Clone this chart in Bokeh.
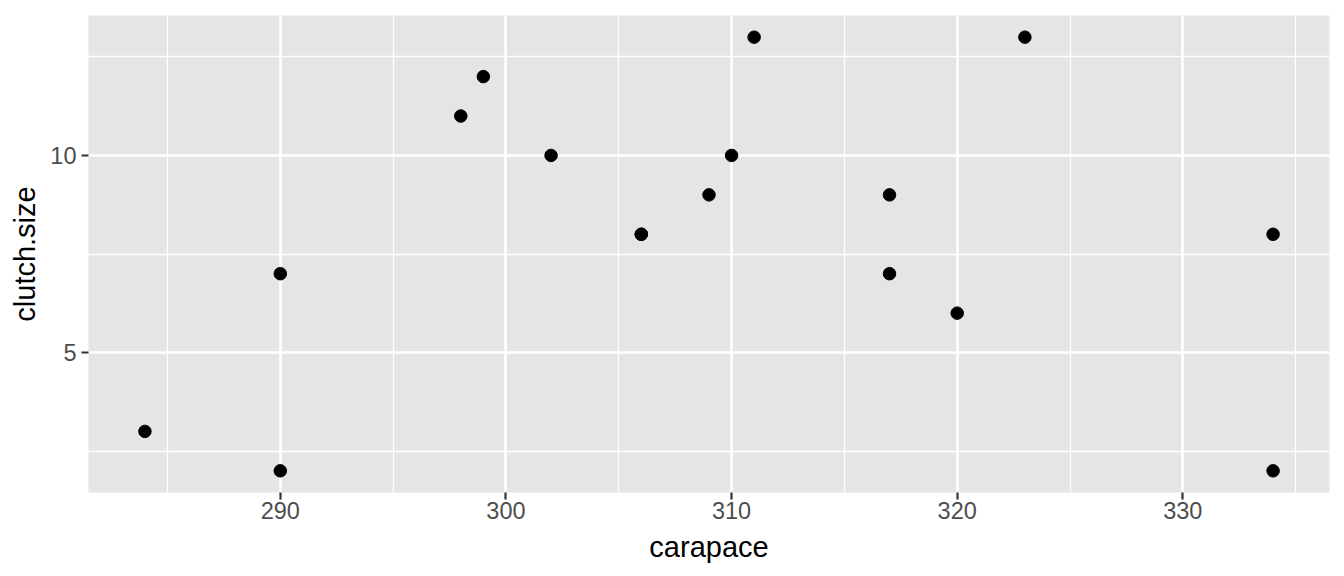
from bokeh.plotting import figure
from bokeh.models import FixedTicker, Range1d
from bokeh.embed import file_html
from bokeh.resources import INLINE

carapace = [284, 290, 290, 298, 299, 302, 306, 306, 309, 310, 311, 317, 317, 320, 323, 334, 334]
clutch_size = [3, 7, 2, 11, 12, 10, 8, 8, 9, 10, 13, 9, 7, 6, 13, 8, 2]
x_ticks = [290, 300, 310, 320, 330]
x_minor = [285, 295, 305, 315, 325, 335]
y_ticks = [5, 10]
y_minor = [2.5, 7.5, 12.5]

xmin, xmax = min(carapace), max(carapace)
ymin, ymax = min(clutch_size), max(clutch_size)
xpad = (xmax - xmin) * 0.05
ypad = (ymax - ymin) * 0.05

p = figure(width=1336, height=568, output_backend="svg", toolbar_location=None,
           x_range=Range1d(xmin - xpad, xmax + xpad), y_range=Range1d(ymin - ypad, ymax + ypad),
           frame_width=1241, frame_height=477,
           min_border_left=88, min_border_right=7, min_border_top=15, min_border_bottom=76)
p.outline_line_color = None
p.background_fill_color = "#E5E5E5"
p.border_fill_color = "white"

p.xaxis.ticker = FixedTicker(ticks=x_ticks, minor_ticks=x_minor)
p.yaxis.ticker = FixedTicker(ticks=y_ticks, minor_ticks=y_minor)

for g in (p.xgrid, p.ygrid):
    g.grid_line_color = "white"
    g.grid_line_width = 2.6
    g.minor_grid_line_color = "white"
    g.minor_grid_line_width = 1.3

for ax in (p.xaxis, p.yaxis):
    ax.axis_line_color = None
    ax.minor_tick_line_color = None
    ax.major_tick_line_color = "#333333"
    ax.major_tick_line_width = 2.2
    ax.major_tick_out = 7
    ax.major_tick_in = 0
    ax.major_label_text_font = "Liberation Sans"
    ax.major_label_text_font_size = "23.5px"
    ax.major_label_text_color = "#4D4D4D"
    ax.axis_label_text_font = "Liberation Sans"
    ax.axis_label_text_font_size = "29px"
    ax.axis_label_text_font_style = "normal"
    ax.axis_label_text_color = "black"

p.xaxis.major_label_standoff = 2
p.yaxis.major_label_standoff = 5
p.xaxis.axis_label = "carapace"
p.yaxis.axis_label = "clutch.size"
p.xaxis.axis_label_standoff = 9
p.yaxis.axis_label_standoff = 6

p.scatter(carapace, clutch_size, size=12.5, color="black")

open("out.html", "w").write(file_html(p, INLINE))
